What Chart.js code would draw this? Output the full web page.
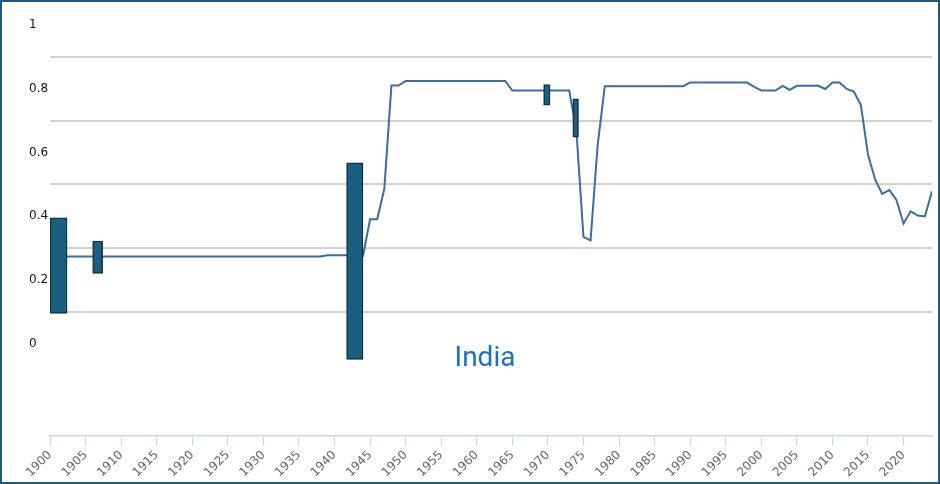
<!DOCTYPE html>
<html>
<head>
<meta charset="utf-8">
<script src="https://cdn.jsdelivr.net/npm/chart.js@4.4.1/dist/chart.umd.min.js"></script>
<style>
    html, body { margin: 0; padding: 0; background: #fff; }
    #frame {
        position: absolute; left: 0; top: 0;
        width: 940px; height: 484px;
        box-sizing: border-box;
        border: 2px solid #1f5a7a;
    }
    #chart { display: block; }
    #country {
        position: absolute; left: 385px; top: 343px; width: 200px;
        text-align: center;
        font-family: Roboto, "Noto Sans", sans-serif;
        font-size: 28px; line-height: 28px;
        color: #1b70bf;
    }
</style>
</head>
<body>
<div id="frame"><canvas id="chart" width="936" height="480"></canvas></div>
<div id="country">India</div>

<script>
// serie principal (anos onde a linha muda de direção)
var lineYears = [1900, 1938, 1939, 1942, 1944, 1945, 1946, 1947, 1948, 1949,
    1950, 1964, 1965, 1973, 1974, 1975, 1976, 1977, 1978, 1989,
    1990, 1998, 1999, 2000, 2002, 2003, 2004, 2005, 2008, 2009,
    2010, 2011, 2012, 2013, 2014, 2015, 2016, 2017, 2018, 2019,
    2020, 2021, 2022, 2023, 2024];
var lineValues = [0.273, 0.273, 0.277, 0.277, 0.275, 0.39, 0.39, 0.485, 0.81, 0.81,
    0.824, 0.824, 0.794, 0.794, 0.67, 0.335, 0.324, 0.624, 0.808, 0.808,
    0.819, 0.819, 0.806, 0.794, 0.794, 0.809, 0.796, 0.809, 0.809, 0.799,
    0.819, 0.819, 0.799, 0.791, 0.749, 0.593, 0.515, 0.47, 0.482, 0.451,
    0.377, 0.415, 0.402, 0.399, 0.478];

// caixas (intervalos)
var gapStart = [1900, 1906, 1941.7, 1969.4, 1973.5];
var gapEnd = [1902.4, 1907.4, 1944, 1970.3, 1974.3];
var gapLow = [0.095, 0.22, -0.05, 0.748, 0.648];
var gapHigh = [0.395, 0.322, 0.567, 0.813, 0.768];

// eixos
var xTickYears = [1900, 1905, 1910, 1915, 1920, 1925, 1930, 1935, 1940, 1945, 1950, 1955,
    1960, 1965, 1970, 1975, 1980, 1985, 1990, 1995, 2000, 2005, 2010, 2015, 2020];
var yLabels = [0, 0.2, 0.4, 0.6, 0.8, 1];
var yGridLines = [0.1, 0.3, 0.5, 0.7, 0.9];

document.addEventListener("DOMContentLoaded", function () {
    desenharGrafico();
});

function desenharGrafico() {
    var ctx = document.getElementById('chart').getContext('2d');

    var points = [];
    for (var i = 0; i < lineYears.length; i++) {
        points.push({ x: lineYears[i], y: lineValues[i] });
    }

    var datasets = [{
        type: 'line',
        data: points,
        borderColor: '#3a6ca6',
        borderWidth: 2,
        pointRadius: 0,
        tension: 0,
        fill: false,
        order: 2
    }];

    gapStart.forEach(function (s, i) {
        datasets.push({
            type: 'bar',
            data: [{ x: (s + gapEnd[i]) / 2, y: [gapLow[i], gapHigh[i]] }],
            barThickness: function (c) {
                var xs = c.chart.scales.x;
                if (!xs) return 5;
                return xs.getPixelForValue(gapEnd[i]) - xs.getPixelForValue(s);
            },
            grouped: false,
            backgroundColor: '#1a5f7f',
            borderColor: '#0e3146',
            borderWidth: 1.5,
            borderSkipped: false,
            order: 1
        });
    });

    new Chart(ctx, {
        data: { datasets: datasets },
        options: {
            responsive: false,
            animation: false,
            layout: { padding: { left: 27, top: 8, right: 6, bottom: 0 } },
            scales: {
                x: {
                    type: 'linear',
                    offset: false,
                    min: 1900,
                    max: 2024,
                    afterBuildTicks: function (scale) {
                        scale.ticks = xTickYears.map(function (v) { return { value: v }; });
                    },
                    afterFit: function (scale) { scale.height = 46; },
                    ticks: {
                        autoSkip: false,
                        minRotation: 45,
                        maxRotation: 45,
                        padding: 2,
                        color: '#666',
                        font: { family: 'DejaVu Sans', size: 12 },
                        callback: function (v) { return String(v); }
                    },
                    grid: {
                        offset: false,
                        drawOnChartArea: false,
                        drawTicks: true,
                        tickLength: 10,
                        color: '#c8d6ea'
                    },
                    border: { color: '#c8d6ea', width: 1.5 }
                },
                y: {
                    min: -0.29,
                    max: 1.04,
                    afterBuildTicks: function (scale) {
                        scale.ticks = yLabels.concat(yGridLines).sort(function (a, b) { return a - b; })
                            .map(function (v) { return { value: v }; });
                    },
                    afterFit: function (scale) { scale.width = 21; },
                    ticks: {
                        crossAlign: 'far',
                        color: '#111',
                        font: { family: 'DejaVu Sans', size: 12 },
                        callback: function (v) {
                            return yLabels.indexOf(v) >= 0 ? String(v) : '';
                        }
                    },
                    grid: {
                        drawTicks: false,
                        lineWidth: 2,
                        color: function (c) {
                            return c.tick && yGridLines.indexOf(c.tick.value) >= 0 ? '#d2d2d2' : 'rgba(0,0,0,0)';
                        }
                    },
                    border: { display: false }
                }
            },
            plugins: {
                legend: { display: false },
                tooltip: { enabled: false }
            }
        }
    });
}
</script>
</body>
</html>
